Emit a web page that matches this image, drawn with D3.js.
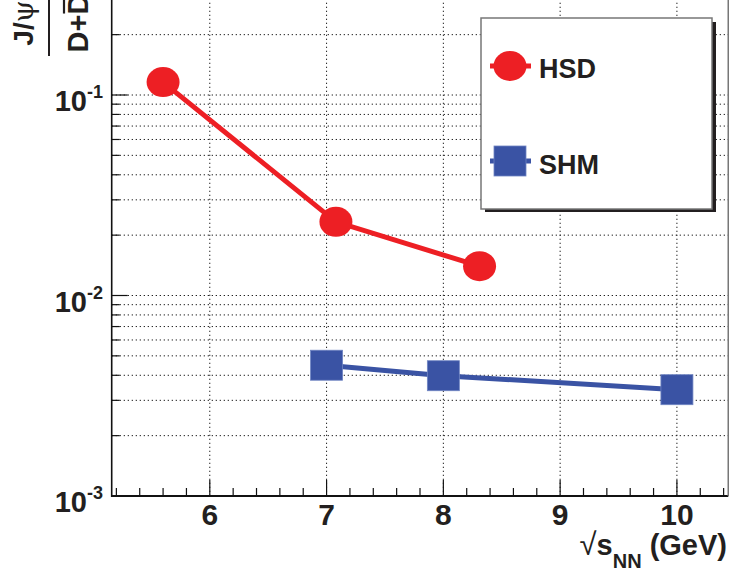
<!DOCTYPE html>
<html>
<head>
<meta charset="utf-8">
<script src="https://cdn.jsdelivr.net/npm/d3@7"></script>
<style>
  html, body { margin: 0; padding: 0; background: #fff; }
  svg { display: block; }
  text { font-family: "Liberation Sans", Arial, Helvetica, sans-serif; font-weight: bold; fill: #231f20; }
</style>
</head>
<body>
<svg id="chart" width="729" height="571"></svg>
<script>
// ---- data ----
const seriesNames = ["HSD", "SHM"];
const hsdX = [5.6, 7.08, 8.31];
const hsdY = [0.116, 0.0233, 0.0140];
const shmX = [7.0, 8.0, 10.0];
const shmY = [0.00449, 0.00398, 0.00339];
const xTickValues = [6, 7, 8, 9, 10];
const xTickLabels = ["6", "7", "8", "9", "10"];
const yMajorValues = [0.001, 0.01, 0.1];
const yMajorExp = ["-3", "-2", "-1"];

// ---- layout ----
const W = 729, H = 571;
const left = 111.7, right = 728.3, bottom = 496;
const pxPerDecade = 200.5;
const xDomain = [5.16, 10.44];
const yDomain = [0.001, 0.35];
const red = "#ed1f24", blue = "#3a53a4";

const svg = d3.select("#chart");
const x = d3.scaleLinear().domain(xDomain).range([left, right]);
const y = d3.scaleLog().domain(yDomain)
  .range([bottom, bottom - pxPerDecade * Math.log10(yDomain[1] / yDomain[0])]);

const plot = svg.append("g");

// grid: horizontal at every log tick
const yAll = y.ticks(); // 1..9 x 10^k
const gridStyle = g => g.attr("stroke", "#222").attr("stroke-width", 1).attr("stroke-dasharray", "1.3,2.7");
plot.append("g").selectAll("line").data(yAll.filter(v => v > yDomain[0])).join("line")
  .attr("x1", left).attr("x2", right)
  .attr("y1", d => y(d)).attr("y2", d => y(d))
  .call(gridStyle);
plot.append("g").selectAll("line").data(xTickValues).join("line")
  .attr("x1", d => x(d)).attr("x2", d => x(d))
  .attr("y1", bottom).attr("y2", y(yDomain[1]))
  .call(gridStyle);

// ticks (inward)
const xMinor = d3.range(52, 105, 2).map(v => v / 10).filter(v => v > xDomain[0] && v < xDomain[1]);
plot.append("g").selectAll("line").data(xMinor).join("line")
  .attr("x1", d => x(d)).attr("x2", d => x(d))
  .attr("y1", bottom).attr("y2", d => bottom - (xTickValues.includes(d) ? 16 : 8))
  .attr("stroke", "#111").attr("stroke-width", 1.2);
plot.append("g").selectAll("line").data(yAll.filter(v => v > yDomain[0])).join("line")
  .attr("x1", left).attr("x2", d => left + (yMajorValues.includes(+d.toPrecision(3)) ? 16 : 8))
  .attr("y1", d => y(d)).attr("y2", d => y(d))
  .attr("stroke", "#111").attr("stroke-width", 1.2);

// frame
plot.append("line").attr("x1", left).attr("x2", left).attr("y1", bottom + 1).attr("y2", -20)
  .attr("stroke", "#111").attr("stroke-width", 1.6);
plot.append("line").attr("x1", left).attr("x2", right).attr("y1", bottom).attr("y2", bottom)
  .attr("stroke", "#111").attr("stroke-width", 2);
plot.append("line").attr("x1", right).attr("x2", right).attr("y1", bottom).attr("y2", -20)
  .attr("stroke", "#777").attr("stroke-width", 1.6);

// x tick labels
svg.append("g").selectAll("text").data(xTickValues).join("text")
  .attr("x", d => x(d)).attr("y", 525)
  .attr("text-anchor", "middle").attr("font-size", 30)
  .text((d, i) => xTickLabels[i]);

// y tick labels
const yl = svg.append("g").selectAll("text").data(yMajorValues).join("text")
  .attr("x", 103).attr("y", d => y(d) + 16)
  .attr("text-anchor", "end").attr("font-size", 29);
yl.append("tspan").text("10");
yl.append("tspan").attr("font-size", 18).attr("dy", -13).text((d, i) => yMajorExp[i]);

// x axis title
const xt = svg.append("text").attr("x", 727).attr("y", 555)
  .attr("text-anchor", "end").attr("font-size", 29);
xt.append("tspan").attr("font-weight", "normal").attr("font-size", 31).text("\u221A");
xt.append("tspan").text("s");
xt.append("tspan").attr("font-size", 20).attr("dy", 13).text("NN");
xt.append("tspan").attr("dy", -13).text(" (GeV)");

// y axis title (fraction, rotated)
const yt = svg.append("g").attr("transform", "translate(49,23) rotate(-90)");
yt.append("line").attr("x1", -33).attr("x2", 33).attr("y1", 0).attr("y2", 0)
  .attr("stroke", "#231f20").attr("stroke-width", 2);
const num = yt.append("text").attr("x", 0).attr("y", -16).attr("text-anchor", "middle").attr("font-size", 28);
num.append("tspan").text("J/");
num.append("tspan").attr("font-family", "DejaVu Serif").attr("font-weight", "normal").text("\u03C8");
const den = yt.append("text").attr("x", 0).attr("y", 39).attr("text-anchor", "middle").attr("font-size", 29);
den.text("D+D");
{
  const n = den.node();
  const total = n.getComputedTextLength();
  const dw = n.getSubStringLength(2, 1);
  const x1 = total / 2 - dw;
  yt.append("line").attr("x1", x1 + 1).attr("x2", total / 2 - 1)
    .attr("y1", 39 - 24).attr("y2", 39 - 24)
    .attr("stroke", "#231f20").attr("stroke-width", 2.2);
}

// series
const line = d3.line().x(d => x(d[0])).y(d => y(d[1]));
const hsd = hsdX.map((v, i) => [v, hsdY[i]]);
const shm = shmX.map((v, i) => [v, shmY[i]]);

plot.append("path").datum(hsd).attr("d", line).attr("fill", "none")
  .attr("stroke", red).attr("stroke-width", 5);
plot.append("g").selectAll("ellipse").data(hsd).join("ellipse")
  .attr("cx", d => x(d[0])).attr("cy", d => y(d[1])).attr("rx", 16.5).attr("ry", 15)
  .attr("fill", red);

plot.append("path").datum(shm).attr("d", line).attr("fill", "none")
  .attr("stroke", blue).attr("stroke-width", 5);
plot.append("g").selectAll("rect").data(shm).join("rect")
  .attr("x", d => x(d[0]) - 16).attr("y", d => y(d[1]) - 15)
  .attr("width", 32).attr("height", 30)
  .attr("fill", blue).attr("stroke", "#6f84c2").attr("stroke-width", 0.8);

// legend
const lg = svg.append("g");
lg.append("rect").attr("x", 485).attr("y", 22).attr("width", 231).attr("height", 190).attr("fill", "#231f20");
lg.append("rect").attr("x", 481).attr("y", 18).attr("width", 231).attr("height", 191)
  .attr("fill", "#fff").attr("stroke", "#777").attr("stroke-width", 1.5);
const entries = [
  { name: seriesNames[0], color: red, shape: "circle", cy: 66, ty: 78 },
  { name: seriesNames[1], color: blue, shape: "square", cy: 161, ty: 174 }
];
entries.forEach(e => {
  lg.append("line").attr("x1", 490).attr("x2", 531).attr("y1", e.cy).attr("y2", e.cy)
    .attr("stroke", e.color).attr("stroke-width", 5);
  if (e.shape === "circle") {
    lg.append("ellipse").attr("cx", 510).attr("cy", e.cy).attr("rx", 16.5).attr("ry", 15).attr("fill", e.color);
  } else {
    lg.append("rect").attr("x", 494).attr("y", e.cy - 15).attr("width", 32).attr("height", 30)
      .attr("fill", e.color).attr("stroke", "#6f84c2").attr("stroke-width", 0.8);
  }
  lg.append("text").attr("x", 539).attr("y", e.ty).attr("font-size", 27).text(e.name);
});
</script>
</body>
</html>
